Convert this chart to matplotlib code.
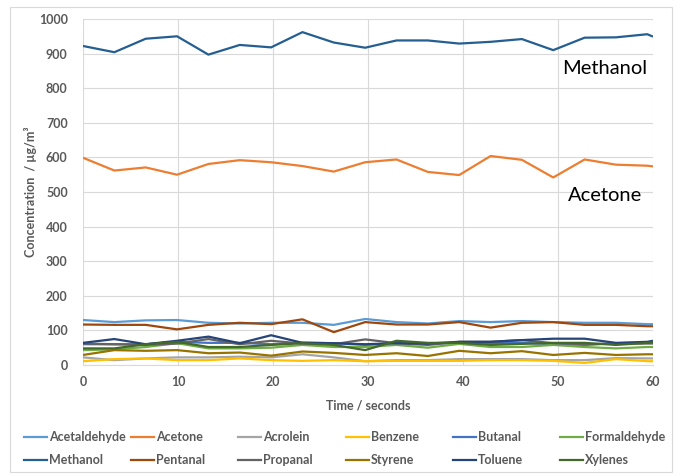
import matplotlib
matplotlib.use("Agg")
import matplotlib.pyplot as plt
from matplotlib.lines import Line2D
from matplotlib.patches import Rectangle

# Sampling times (s)
time = [0, 3.3, 6.6, 9.9, 13.2, 16.5, 19.8, 23.1, 26.4, 29.7,
        33.0, 36.3, 39.6, 42.9, 46.2, 49.5, 52.8, 56.1, 59.4, 60]

# Concentrations (ug/m3)
acetaldehyde = [130, 124, 129, 130, 122, 120, 122, 122, 116, 133,
                124, 120, 127, 124, 127, 124, 122, 122, 118, 118]
acetone = [599, 562, 571, 550, 581, 592, 586, 575, 559, 586,
           594, 558, 549, 604, 593, 542, 594, 579, 576, 574]
acrolein = [22, 14, 19, 22, 22, 24, 22, 31, 22, 11,
            14, 14, 17, 17, 17, 14, 14, 20, 19, 19]
benzene = [11, 17, 19, 14, 14, 19, 14, 12, 14, 11,
           12, 12, 12, 14, 14, 12, 6, 17, 11, 11]
butanal = [60, 60, 60, 67, 64, 64, 60, 65, 63, 58,
           63, 61, 64, 63, 64, 60, 58, 63, 64, 64]
formaldehyde = [43, 45, 52, 63, 48, 48, 50, 58, 52, 52,
                58, 50, 61, 52, 52, 58, 52, 48, 52, 52]
methanol = [922, 904, 943, 950, 897, 925, 918, 962, 932, 917,
            938, 938, 929, 934, 942, 910, 946, 947, 956, 949]
pentanal = [117, 116, 116, 103, 116, 122, 118, 132, 95, 124,
            117, 117, 124, 108, 122, 124, 116, 116, 112, 112]
propanal = [62, 60, 58, 62, 75, 60, 70, 62, 60, 74,
            63, 58, 67, 67, 72, 63, 60, 62, 62, 62]
styrene = [29, 43, 41, 43, 34, 36, 27, 39, 35, 29,
           34, 26, 41, 34, 40, 29, 35, 29, 31, 31]
toluene = [64, 75, 60, 70, 82, 63, 86, 64, 63, 60,
           63, 62, 67, 67, 72, 76, 76, 64, 67, 70]
xylenes = [48, 48, 60, 67, 52, 52, 58, 63, 58, 43,
           70, 64, 64, 58, 61, 64, 64, 58, 64, 66]

names = ["Acetaldehyde", "Acetone", "Acrolein", "Benzene", "Butanal", "Formaldehyde",
         "Methanol", "Pentanal", "Propanal", "Styrene", "Toluene", "Xylenes"]
series = [acetaldehyde, acetone, acrolein, benzene, butanal, formaldehyde,
          methanol, pentanal, propanal, styrene, toluene, xylenes]
colors = ["#5B9BD5", "#ED7D31", "#A5A5A5", "#FFC000", "#4472C4", "#70AD47",
          "#255E91", "#9E480E", "#636363", "#997300", "#264478", "#43682B"]

plt.rcParams["font.family"] = ["Lato", "DejaVu Sans"]
TXT = "#595959"
GRID = "#d9d9d9"
FS = 9

W, H = 677, 475
fig = plt.figure(figsize=(W / 100, H / 100), dpi=100)

# chart-area border
fig.add_artist(Rectangle((10 / W, 3 / H), 662 / W, 465 / H, transform=fig.transFigure,
                         fill=False, edgecolor=GRID, lw=0.8))

ax = fig.add_axes([83 / W, (H - 365) / H, 570 / W, 346 / H])
for s, c in zip(series, colors):
    ax.plot(time, s, color=c, lw=1.6, solid_joinstyle="round", solid_capstyle="butt")

ax.set_xlim(0, 60)
ax.set_ylim(0, 1000)
ax.set_xticks(range(0, 61, 10))
ax.set_yticks(range(0, 1001, 100))
ax.grid(True, color=GRID, lw=0.8)
ax.set_axisbelow(True)
for sp in ("top", "right", "left"):
    ax.spines[sp].set_visible(False)
ax.spines["bottom"].set_color(GRID)
ax.tick_params(axis="y", length=0, labelsize=FS, labelcolor=TXT, pad=11)
ax.tick_params(axis="x", length=0, labelsize=FS, labelcolor=TXT, pad=8)
for lab in ax.get_xticklabels() + ax.get_yticklabels():
    lab.set_fontweight("bold")

ax.set_xlabel("Time / seconds", fontsize=FS, color=TXT, fontweight="bold", labelpad=8)
ax.set_ylabel("Concentration  / µg/m³", fontsize=FS, color=TXT, fontweight="bold", labelpad=1)

ax.text(54.9, 858, "Methanol", fontsize=14.5, color="black", ha="center", va="center")
ax.text(55.0, 491, "Acetone", fontsize=14.5, color="black", ha="center", va="center")

# legend in two rows of six
for i, (n, c) in enumerate(zip(names, colors)):
    row, col = divmod(i, 6)
    x0 = 24 + col * 107.2
    y0 = 437 if row == 0 else 460
    fig.add_artist(Line2D([x0 / W, (x0 + 23) / W], [(H - y0) / H] * 2,
                          transform=fig.transFigure, color=c, lw=1.6))
    fig.text((x0 + 25) / W, (H - y0) / H, n, fontsize=FS, color=TXT,
             fontweight="bold", va="center", ha="left")

fig.savefig("out.png", dpi=100)
